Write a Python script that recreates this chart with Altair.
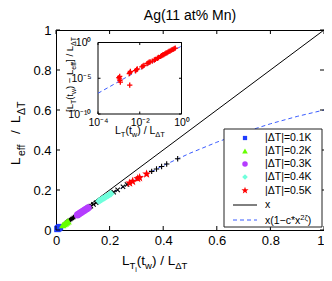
import math
import altair as alt
import pandas as pd

F = "Liberation Sans"
W_PLOT, H_PLOT = 268, 200

# ---------------- data ----------------
diag_x = [0.0, 1.0]
diag_y = [0.0, 1.0]

fit_x = [0.0, 0.05, 0.1, 0.15, 0.2, 0.3, 0.4, 0.5, 0.6, 0.7, 0.8, 0.9, 1.0]
fit_y = [0.0, 0.048, 0.093, 0.136, 0.177, 0.253, 0.322, 0.384, 0.439, 0.488, 0.531, 0.568, 0.600]

blue_x = [0.005, 0.008, 0.010, 0.012, 0.015]
blue_y = [0.005, 0.008, 0.0099, 0.0118, 0.0148]

green_x = [0.025, 0.03, 0.035, 0.04, 0.045]
green_y = [0.0245, 0.0292, 0.034, 0.0387, 0.0434]

purple_x = [0.08, 0.085, 0.09, 0.095, 0.10, 0.105, 0.11, 0.115, 0.12]
purple_y = [0.0755, 0.080, 0.0845, 0.0889, 0.0934, 0.0978, 0.1021, 0.1065, 0.1108]

cyan_x = [0.16, 0.165, 0.17, 0.175, 0.18, 0.185, 0.19, 0.195, 0.20, 0.205]
cyan_y = [0.1447, 0.149, 0.1529, 0.157, 0.1611, 0.165, 0.1692, 0.173, 0.1772, 0.181]

red_x = [0.275, 0.286, 0.305, 0.312, 0.338]
red_y = [0.2348, 0.2429, 0.257, 0.2617, 0.2800]

plus_x = [0.035, 0.04, 0.045, 0.05, 0.055, 0.06, 0.065, 0.07, 0.357, 0.375, 0.394, 0.413, 0.454]
plus_y = [0.034, 0.0387, 0.0434, 0.0481, 0.0527, 0.0573, 0.062, 0.0665, 0.2931, 0.3052, 0.3178, 0.3301, 0.3559]

cross_x = [0.125, 0.13, 0.14, 0.15, 0.215, 0.23, 0.25, 0.265]
cross_y = [0.115, 0.1194, 0.1279, 0.1364, 0.1891, 0.2008, 0.2161, 0.2274]

# inset (log10 exponents)
inset_ex = [-3.0, -2.97, -2.95, -2.93, -2.96, -2.5, -2.47, -2.45, -2.48,
            -2.2, -2.15, -2.12, -1.9, -1.85, -1.8, -1.65, -1.6, -1.55, -1.5,
            -1.4, -1.3, -1.25, -1.15, -1.1, -1.0, -0.95, -0.9, -0.85, -0.8,
            -0.75, -0.7, -0.65, -0.6, -0.55, -0.5, -0.45, -0.4, -0.35, -0.3]
inset_ey = [-4.9, -5.1, -5.3, -5.55, -4.75, -4.35, -4.2, -4.05, -5.97,
            -3.95, -3.8, -3.7, -3.4, -3.3, -3.2, -2.95, -2.85, -2.75, -2.7,
            -2.6, -2.45, -2.35, -2.2, -2.1, -1.95, -1.85, -1.75, -1.7, -1.6,
            -1.5, -1.45, -1.35, -1.25, -1.2, -1.1, -1.0, -0.95, -0.85, -0.8]
inset_fit_ex = [-4.0, 0.0]
inset_fit_ey = [-7.1, -0.5]

main_ticks = [0, 0.2, 0.4, 0.6, 0.8, 1.0]
inset_xticks = [1e-4, 1e-2, 1.0]
inset_yticks = [1e-10, 1e-5, 1.0]

legend_labels = ["|ΔT|=0.1K", "|ΔT|=0.2K", "|ΔT|=0.3K", "|ΔT|=0.4K", "|ΔT|=0.5K", "x"]

# ---------------- helpers ----------------
one = pd.DataFrame({"a": [0]})

WID = {'L': 0.556, 'T': 0.611, 'i': 0.222, '(': 0.333, ')': 0.333, 't': 0.278, 'w': 0.722,
       ' ': 0.278, '/': 0.278, 'Δ': 0.668, 'e': 0.556, 'f': 0.278, '[': 0.278, ']': 0.278,
       '−': 0.584, 'x': 0.5, '1': 0.556, 'c': 0.5, '*': 0.389, '2': 0.556, 'ζ': 0.45}


def width(s, size):
    return sum(WID.get(c, 0.55) for c in s) * size


def txt(text, x, y, size, angle=None, align="left", baseline="alphabetic", color="black"):
    kw = dict(text=text, fontSize=size, font=F, align=align, baseline=baseline, color=color)
    if angle is not None:
        kw["angle"] = angle
    return alt.Chart(one).mark_text(**kw).encode(x=alt.value(x), y=alt.value(y))


def compose(pieces, start, base, vertical=False):
    out = []
    pos = start
    for text, size, shift in pieces:
        if vertical:
            out.append(txt(text, base + shift, pos, size, angle=270))
            pos -= width(text, size)
        else:
            out.append(txt(text, pos, base + shift, size))
            pos += width(text, size)
    return out


def star_path(n=5, r1=1.0, r2=0.42):
    pts = []
    for k in range(2 * n):
        r = r1 if k % 2 == 0 else r2
        a = -math.pi / 2 + k * math.pi / n
        pts.append(f"{r * math.cos(a):.3f},{r * math.sin(a):.3f}")
    return "M" + "L".join(pts) + "Z"


STAR = star_path()
PLUS = "M-1,0L1,0M0,-1L0,1"
XMARK = "M-0.8,-0.8L0.8,0.8M-0.8,0.8L0.8,-0.8"
BLUE = "#3a5cff"

# ---------------- main scales/axes ----------------
main_lab = "datum.value==0?'0':datum.value==1?'1':format(datum.value,'.1f')"
X_main = alt.X("x:Q", scale=alt.Scale(domain=[0, 1], nice=False, zero=False),
               axis=alt.Axis(values=main_ticks, labelExpr=main_lab, ticks=False, domain=False,
                             grid=False, labelFontSize=13, labelPadding=4, labelFlush=False,
                             labelAlign={"condition": {"test": "datum.value >= 0.99", "value": "right"},
                                         "value": "center"},
                             title=None, labelColor="black", labelFont=F))
Y_main = alt.Y("y:Q", scale=alt.Scale(domain=[0, 1], nice=False, zero=False),
               axis=alt.Axis(values=main_ticks, labelExpr=main_lab, ticks=False, domain=False,
                             grid=False, labelFontSize=13, labelPadding=5, labelFlush=False,
                             title=None, labelColor="black", labelFont=F))


def pts(xs, ys, shape, color, size, filled=True, sw=1.0):
    df = pd.DataFrame({"x": xs, "y": ys})
    return alt.Chart(df).mark_point(shape=shape, filled=filled, color=color, size=size,
                                    opacity=1, strokeWidth=sw).encode(x=X_main, y=Y_main)


main_layers = []
main_layers.append(alt.Chart(pd.DataFrame({"x": diag_x, "y": diag_y}))
                   .mark_line(color="black", strokeWidth=1).encode(x=X_main, y=Y_main))
main_layers.append(alt.Chart(pd.DataFrame({"x": fit_x, "y": fit_y}))
                   .mark_line(color=BLUE, strokeWidth=1, strokeDash=[4, 3]).encode(x=X_main, y=Y_main))
main_layers.append(pts(plus_x, plus_y, PLUS, "black", 30, filled=False, sw=1.1))
main_layers.append(pts(cross_x, cross_y, XMARK, "black", 30, filled=False, sw=1.1))
main_layers.append(pts(blue_x, blue_y, "square", "#1f3cff", 40))
main_layers.append(pts(green_x, green_y, "triangle-up", "#66ff00", 55))
main_layers.append(pts(purple_x, purple_y, "circle", "#b53cff", 50))
main_layers.append(pts(cyan_x, cyan_y, "diamond", "#70ffdc", 55))
main_layers.append(pts(red_x, red_y, STAR, "#ff0000", 85))

# inward ticks (main)
tdf_x = pd.DataFrame({"x": main_ticks})
tdf_y = pd.DataFrame({"y": main_ticks})
main_layers.append(alt.Chart(tdf_x).mark_rule(color="black").encode(
    x=X_main, y=alt.value(H_PLOT), y2=alt.value(H_PLOT - 4)))
main_layers.append(alt.Chart(tdf_x).mark_rule(color="black").encode(
    x=X_main, y=alt.value(0), y2=alt.value(4)))
main_layers.append(alt.Chart(tdf_y).mark_rule(color="black").encode(
    y=Y_main, x=alt.value(0), x2=alt.value(4)))
main_layers.append(alt.Chart(tdf_y).mark_rule(color="black").encode(
    y=Y_main, x=alt.value(W_PLOT), x2=alt.value(W_PLOT - 4)))

# title
main_layers.append(txt("Ag(11 at% Mn)", 134, -10, 14, align="center"))

# x title  L_{T_i}(t_w) / L_{ΔT}
main_layers += compose([("L", 13.5, 0), ("T", 9.5, 4), ("i", 7, 7), ("(t", 13.5, 0),
                        ("w", 9.5, 4), (") / L", 13.5, 0), ("ΔT", 9.5, 4)], 66, 235)
# y title  L_eff / L_ΔT
for t, s, sh, yy in [("L", 13.5, 0, 165), ("eff", 10.5, 4.5, 156), ("/", 13.5, 0, 134),
                     ("L", 13.5, 0, 123), ("ΔT", 10.5, 4.5, 115)]:
    main_layers.append(txt(t, -36 + sh, yy - 30, s, angle=270))

# inset background + frame
IX0, IX1, IY0, IY1 = 42, 125.5, 12.5, 84
main_layers.append(alt.Chart(one).mark_rect(fill="white", stroke="black", strokeWidth=1).encode(
    x=alt.value(IX0), x2=alt.value(IX1), y=alt.value(IY0), y2=alt.value(IY1)))

# inset titles
main_layers += compose([("L", 10.5, 0), ("T", 7.5, 3), ("(t", 10.5, 0), ("w", 7.5, 3),
                        (") / L", 10.5, 0), ("ΔT", 7.5, 3)], 59, 104)
main_layers += compose([("[L", 9.5, 0), ("T", 7, 3), ("(t", 9.5, 0), ("w", 7, 3),
                        (") − L", 9.5, 0), ("eff", 7, 3), ("] / L", 9.5, 0), ("ΔT", 7, 3)],
                       82, 17, vertical=True)

# legend
LX0, LX1, LY0, LY1 = 168, 266, 99, 197
rows = [108, 121, 134, 147, 160.5, 175, 190]
main_layers.append(alt.Chart(one).mark_rect(fill="white", stroke="#222222", strokeWidth=1).encode(
    x=alt.value(LX0), x2=alt.value(LX1), y=alt.value(LY0), y2=alt.value(LY1)))
leg_sym = [("square", "#1f3cff", 18), ("triangle-up", "#66ff00", 32), ("circle", "#b53cff", 30),
           ("diamond", "#70ffdc", 32), (STAR, "#ff0000", 55)]
for (shape, col, sz), ry in zip(leg_sym, rows[:5]):
    main_layers.append(alt.Chart(one).mark_point(shape=shape, filled=True, color=col, size=sz,
                                                 opacity=1).encode(x=alt.value(189), y=alt.value(ry)))
for lab, ry in zip(legend_labels, rows[:6]):
    main_layers.append(txt(lab, 209, ry, 10.5, baseline="middle"))
main_layers.append(alt.Chart(one).mark_rule(color="black", strokeWidth=1).encode(
    x=alt.value(177), x2=alt.value(201), y=alt.value(rows[5])))
main_layers.append(alt.Chart(one).mark_rule(color=BLUE, strokeWidth=1, strokeDash=[4, 3]).encode(
    x=alt.value(177), x2=alt.value(201), y=alt.value(rows[6])))
main_layers += compose([("x(1−c*x", 10.5, 0), ("2ζ", 7.5, -4), (")", 10.5, 0)], 209, rows[6] + 4)

main = alt.layer(*main_layers)

# ---------------- inset ----------------
X_in = alt.X("ix:Q", scale=alt.Scale(type="log", domain=[1e-4, 1], range=[IX0, IX1], nice=False),
             axis=alt.Axis(orient="bottom", offset=-(H_PLOT - IY1), values=inset_xticks,
                           labelExpr="datum.value>0.5?'10⁰':datum.value>0.001?'10⁻²':'10⁻⁴'",
                           ticks=False, domain=False, grid=False, labelFontSize=10.5,
                           labelPadding=3, labelFlush=False, title=None,
                           labelColor="black", labelFont=F))
Y_in = alt.Y("iy:Q", scale=alt.Scale(type="log", domain=[1e-10, 1], range=[IY1, IY0], nice=False),
             axis=alt.Axis(orient="left", offset=-IX0, values=inset_yticks,
                           labelExpr="datum.value>0.5?'10⁰':datum.value>1e-7?'10⁻⁵':'10⁻¹⁰'",
                           ticks=False, domain=False, grid=False, labelFontSize=10.5,
                           labelPadding=7, labelFlush=False, title=None,
                           labelColor="black", labelFont=F))

inset_pts = pd.DataFrame({"ix": [10 ** e for e in inset_ex], "iy": [10 ** e for e in inset_ey]})
inset_fit = pd.DataFrame({"ix": [10 ** e for e in inset_fit_ex], "iy": [10 ** e for e in inset_fit_ey]})

inset_layers = [
    alt.Chart(inset_fit).mark_line(color=BLUE, strokeWidth=1, strokeDash=[4, 3]).encode(x=X_in, y=Y_in),
    alt.Chart(inset_pts).mark_point(shape=PLUS, filled=False, color="#ff0000", size=28,
                                     strokeWidth=1.3, opacity=1).encode(x=X_in, y=Y_in),
    alt.Chart(pd.DataFrame({"ix": inset_xticks})).mark_rule(color="black").encode(
        x=X_in, y=alt.value(IY1), y2=alt.value(IY1 - 2.5)),
    alt.Chart(pd.DataFrame({"ix": inset_xticks})).mark_rule(color="black").encode(
        x=X_in, y=alt.value(IY0), y2=alt.value(IY0 + 2.5)),
    alt.Chart(pd.DataFrame({"iy": inset_yticks})).mark_rule(color="black").encode(
        y=Y_in, x=alt.value(IX0), x2=alt.value(IX0 + 2.5)),
    alt.Chart(pd.DataFrame({"iy": inset_yticks})).mark_rule(color="black").encode(
        y=Y_in, x=alt.value(IX1), x2=alt.value(IX1 - 2.5)),
]
inset = alt.layer(*inset_layers)

chart = (
    alt.layer(main, inset)
    .resolve_scale(x="independent", y="independent")
    .properties(width=W_PLOT, height=H_PLOT,
                autosize=alt.AutoSizeParams(type="none"),
                padding={"left": 48, "top": 22, "right": 0, "bottom": 43},
                background="white")
    .configure_view(stroke="black", strokeWidth=1)
    .configure_text(font=F)
)

chart.save("out.html", embed_options={"renderer": "svg", "actions": False})
